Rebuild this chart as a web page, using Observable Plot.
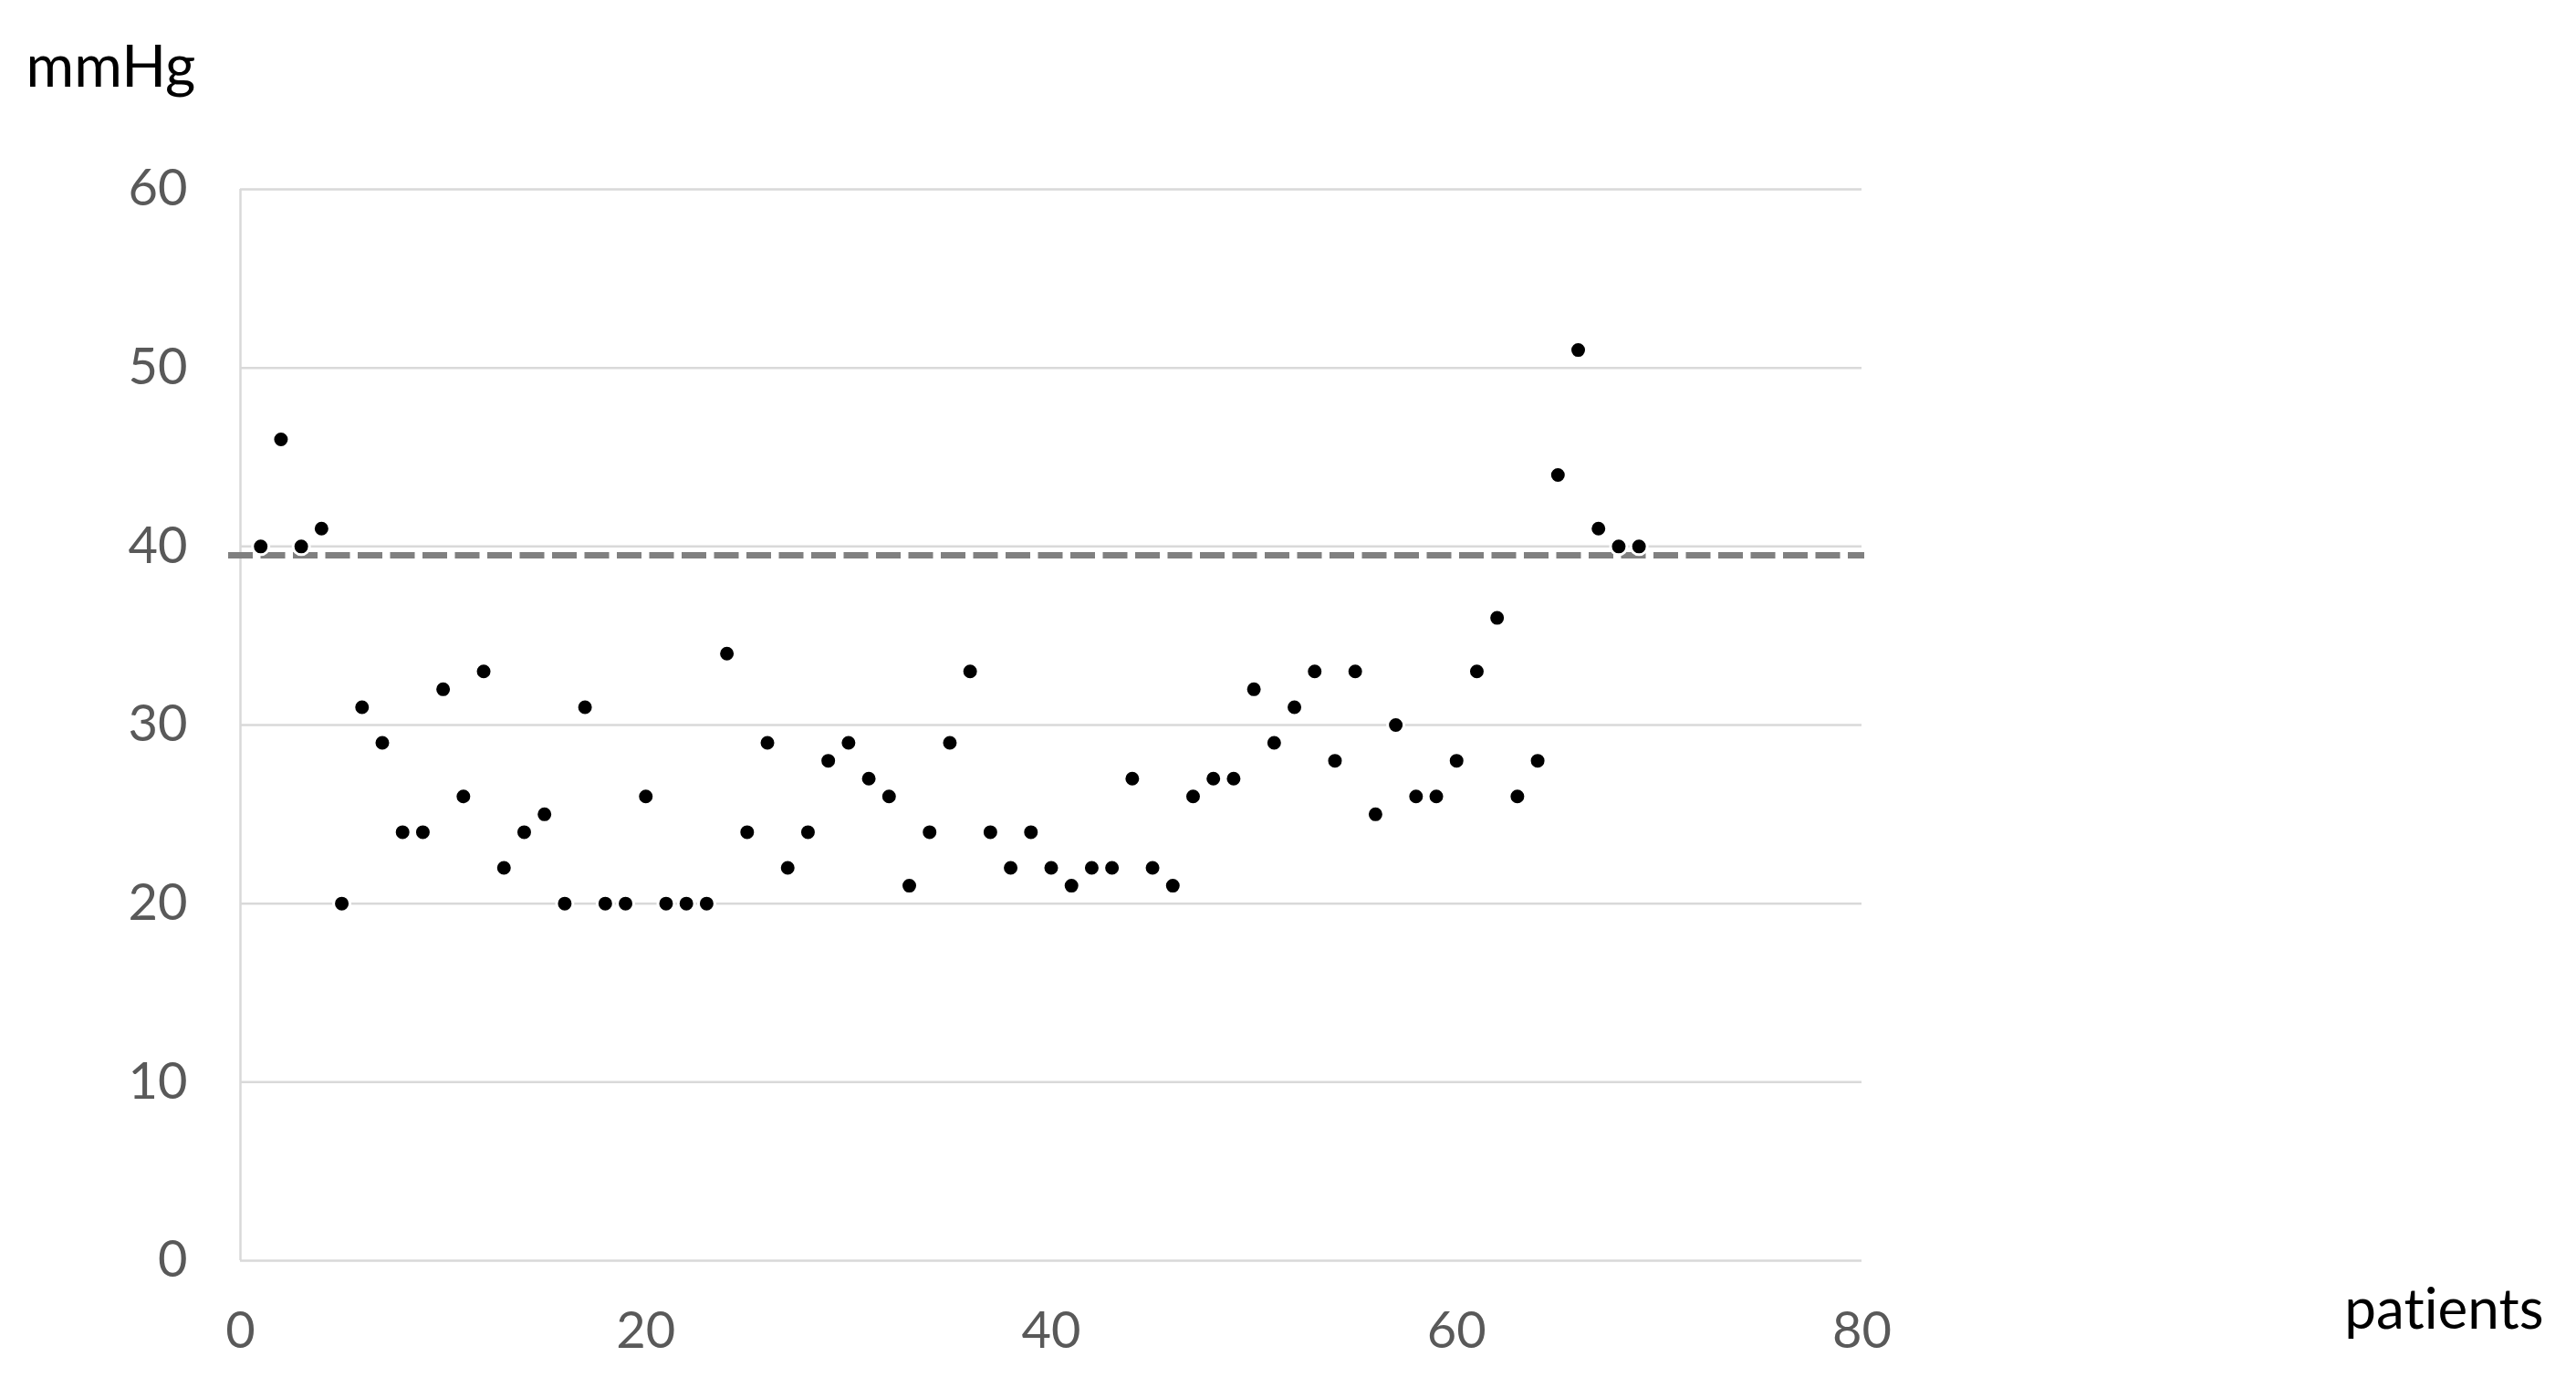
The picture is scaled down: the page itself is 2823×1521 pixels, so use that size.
<!DOCTYPE html>
<html>
<head>
<meta charset="utf-8">
<script src="https://cdn.jsdelivr.net/npm/d3@7"></script>
<script src="https://cdn.jsdelivr.net/npm/@observablehq/plot@0.6"></script>
<style>
  html, body { margin: 0; padding: 0; background: #fff; }
  #chart svg { display: block; }
  #chart svg text { font-variant-ligatures: none; font-feature-settings: "liga" 0, "clig" 0; }
</style>
</head>
<body>
<div id="chart"></div>
<script>
// ---- data ----
const patients = [1,2,3,4,5,6,7,8,9,10,11,12,13,14,15,16,17,18,19,20,21,22,23,24,25,26,27,28,29,30,31,32,33,34,35,36,37,38,39,40,41,42,43,44,45,46,47,48,49,50,51,52,53,54,55,56,57,58,59,60,61,62,63,64,65,66,67,68,69];
const pressure = [40,46,40,41,20,31,29,24,24,32,26,33,22,24,25,20,31,20,20,26,20,20,20,34,24,29,22,24,28,29,27,26,21,24,29,33,24,22,24,22,21,22,22,27,22,21,26,27,27,32,29,31,33,28,33,25,30,26,26,28,33,36,26,28,44,51,41,40,40];
const threshold = [39.5];
const xTicks = [0, 20, 40, 60, 80];
const yTicks = [0, 10, 20, 30, 40, 50, 60];
const yLabel = "mmHg";
const xLabel = "patients";

const rows = patients.map((p, i) => ({patient: p, value: pressure[i]}));

const chart = Plot.plot({
  width: 2823,
  height: 1521,
  marginLeft: 263,
  marginRight: 783,
  marginTop: 207,
  marginBottom: 140,
  style: {fontFamily: "Lato, 'Open Sans', sans-serif", background: "#fff", overflow: "visible"},
  x: {domain: [0, 80]},
  y: {domain: [0, 60]},
  marks: [
    Plot.gridY(yTicks, {stroke: "#d9d9d9", strokeOpacity: 1, strokeWidth: 2.5}),
    Plot.ruleX([0], {stroke: "#d9d9d9", strokeWidth: 2.5}),
    Plot.ruleY(threshold, {stroke: "#808080", strokeWidth: 7, strokeDasharray: "27,8.5", insetLeft: -13, insetRight: -3}),
    Plot.dot(rows, {x: "patient", y: "value", r: 9, fill: "#000", stroke: "#fff", strokeWidth: 3}),
    Plot.axisX(xTicks, {tickSize: 0, tickPadding: 56, fontSize: 56, color: "#595959", label: null}),
    Plot.axisY(yTicks, {tickSize: 0, tickPadding: 58, fontSize: 56, color: "#595959", label: null}),
    Plot.text([yLabel], {frameAnchor: "top-left", textAnchor: "start", lineAnchor: "bottom", dx: -235, dy: -113, fontSize: 64, fill: "#000"}),
    Plot.text([xLabel], {frameAnchor: "bottom-right", textAnchor: "end", lineAnchor: "bottom", dx: 747, dy: 74, fontSize: 62, fill: "#000"})
  ]
});
document.getElementById("chart").append(chart);
</script>
</body>
</html>
